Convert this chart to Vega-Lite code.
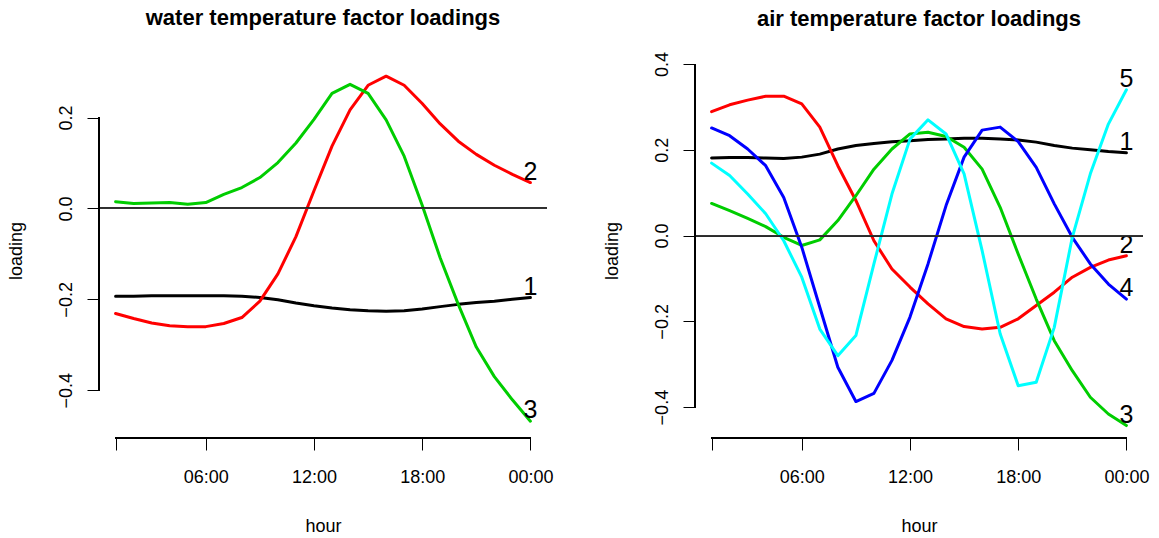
{
  "$schema": "https://vega.github.io/schema/vega-lite/v6.json",
  "background": "white",
  "padding": {"left": 7, "top": 7, "right": 5, "bottom": 0},
  "config": {
    "view": {"stroke": null},
    "font": "Liberation Sans",
    "title": {"fontSize": 22, "fontWeight": "bold", "font": "Liberation Sans", "color": "black", "anchor": "middle", "frame": "group", "baseline": "alphabetic"},
    "axis": {"grid": false, "domain": false, "tickColor": "black", "tickSize": 12, "tickWidth": 1, "labelFont": "Liberation Sans", "labelFontSize": 18, "labelColor": "black", "titleFont": "Liberation Sans", "titleFontSize": 18, "titleFontWeight": "normal", "titleColor": "black", "labelOverlap": false, "labelFlush": false}
  },
  "datasets": {
    "water": [
      {"hour": 1, "factor": "1", "loading": -0.193}, {"hour": 2, "factor": "1", "loading": -0.193}, {"hour": 3, "factor": "1", "loading": -0.192}, {"hour": 4, "factor": "1", "loading": -0.192}, {"hour": 5, "factor": "1", "loading": -0.192}, {"hour": 6, "factor": "1", "loading": -0.192}, {"hour": 7, "factor": "1", "loading": -0.192}, {"hour": 8, "factor": "1", "loading": -0.193}, {"hour": 9, "factor": "1", "loading": -0.196}, {"hour": 10, "factor": "1", "loading": -0.201}, {"hour": 11, "factor": "1", "loading": -0.208}, {"hour": 12, "factor": "1", "loading": -0.214}, {"hour": 13, "factor": "1", "loading": -0.219}, {"hour": 14, "factor": "1", "loading": -0.223}, {"hour": 15, "factor": "1", "loading": -0.225}, {"hour": 16, "factor": "1", "loading": -0.226}, {"hour": 17, "factor": "1", "loading": -0.225}, {"hour": 18, "factor": "1", "loading": -0.221}, {"hour": 19, "factor": "1", "loading": -0.216}, {"hour": 20, "factor": "1", "loading": -0.211}, {"hour": 21, "factor": "1", "loading": -0.207}, {"hour": 22, "factor": "1", "loading": -0.204}, {"hour": 23, "factor": "1", "loading": -0.200}, {"hour": 24, "factor": "1", "loading": -0.196},
      {"hour": 1, "factor": "2", "loading": -0.231}, {"hour": 2, "factor": "2", "loading": -0.242}, {"hour": 3, "factor": "2", "loading": -0.252}, {"hour": 4, "factor": "2", "loading": -0.258}, {"hour": 5, "factor": "2", "loading": -0.260}, {"hour": 6, "factor": "2", "loading": -0.260}, {"hour": 7, "factor": "2", "loading": -0.253}, {"hour": 8, "factor": "2", "loading": -0.240}, {"hour": 9, "factor": "2", "loading": -0.204}, {"hour": 10, "factor": "2", "loading": -0.144}, {"hour": 11, "factor": "2", "loading": -0.062}, {"hour": 12, "factor": "2", "loading": 0.039}, {"hour": 13, "factor": "2", "loading": 0.137}, {"hour": 14, "factor": "2", "loading": 0.217}, {"hour": 15, "factor": "2", "loading": 0.271}, {"hour": 16, "factor": "2", "loading": 0.291}, {"hour": 17, "factor": "2", "loading": 0.271}, {"hour": 18, "factor": "2", "loading": 0.231}, {"hour": 19, "factor": "2", "loading": 0.186}, {"hour": 20, "factor": "2", "loading": 0.148}, {"hour": 21, "factor": "2", "loading": 0.119}, {"hour": 22, "factor": "2", "loading": 0.095}, {"hour": 23, "factor": "2", "loading": 0.075}, {"hour": 24, "factor": "2", "loading": 0.057},
      {"hour": 1, "factor": "3", "loading": 0.015}, {"hour": 2, "factor": "3", "loading": 0.011}, {"hour": 3, "factor": "3", "loading": 0.012}, {"hour": 4, "factor": "3", "loading": 0.013}, {"hour": 5, "factor": "3", "loading": 0.009}, {"hour": 6, "factor": "3", "loading": 0.013}, {"hour": 7, "factor": "3", "loading": 0.031}, {"hour": 8, "factor": "3", "loading": 0.046}, {"hour": 9, "factor": "3", "loading": 0.068}, {"hour": 10, "factor": "3", "loading": 0.101}, {"hour": 11, "factor": "3", "loading": 0.144}, {"hour": 12, "factor": "3", "loading": 0.196}, {"hour": 13, "factor": "3", "loading": 0.253}, {"hour": 14, "factor": "3", "loading": 0.273}, {"hour": 15, "factor": "3", "loading": 0.253}, {"hour": 16, "factor": "3", "loading": 0.195}, {"hour": 17, "factor": "3", "loading": 0.115}, {"hour": 18, "factor": "3", "loading": 0.007}, {"hour": 19, "factor": "3", "loading": -0.109}, {"hour": 20, "factor": "3", "loading": -0.211}, {"hour": 21, "factor": "3", "loading": -0.305}, {"hour": 22, "factor": "3", "loading": -0.370}, {"hour": 23, "factor": "3", "loading": -0.421}, {"hour": 24, "factor": "3", "loading": -0.468}
    ],
    "air": [
      {"hour": 1, "factor": "1", "loading": 0.181}, {"hour": 2, "factor": "1", "loading": 0.182}, {"hour": 3, "factor": "1", "loading": 0.182}, {"hour": 4, "factor": "1", "loading": 0.181}, {"hour": 5, "factor": "1", "loading": 0.180}, {"hour": 6, "factor": "1", "loading": 0.183}, {"hour": 7, "factor": "1", "loading": 0.190}, {"hour": 8, "factor": "1", "loading": 0.202}, {"hour": 9, "factor": "1", "loading": 0.210}, {"hour": 10, "factor": "1", "loading": 0.215}, {"hour": 11, "factor": "1", "loading": 0.219}, {"hour": 12, "factor": "1", "loading": 0.221}, {"hour": 13, "factor": "1", "loading": 0.224}, {"hour": 14, "factor": "1", "loading": 0.225}, {"hour": 15, "factor": "1", "loading": 0.227}, {"hour": 16, "factor": "1", "loading": 0.227}, {"hour": 17, "factor": "1", "loading": 0.225}, {"hour": 18, "factor": "1", "loading": 0.223}, {"hour": 19, "factor": "1", "loading": 0.218}, {"hour": 20, "factor": "1", "loading": 0.210}, {"hour": 21, "factor": "1", "loading": 0.204}, {"hour": 22, "factor": "1", "loading": 0.200}, {"hour": 23, "factor": "1", "loading": 0.196}, {"hour": 24, "factor": "1", "loading": 0.193},
      {"hour": 1, "factor": "2", "loading": 0.289}, {"hour": 2, "factor": "2", "loading": 0.305}, {"hour": 3, "factor": "2", "loading": 0.316}, {"hour": 4, "factor": "2", "loading": 0.325}, {"hour": 5, "factor": "2", "loading": 0.325}, {"hour": 6, "factor": "2", "loading": 0.307}, {"hour": 7, "factor": "2", "loading": 0.253}, {"hour": 8, "factor": "2", "loading": 0.163}, {"hour": 9, "factor": "2", "loading": 0.082}, {"hour": 10, "factor": "2", "loading": -0.012}, {"hour": 11, "factor": "2", "loading": -0.078}, {"hour": 12, "factor": "2", "loading": -0.120}, {"hour": 13, "factor": "2", "loading": -0.159}, {"hour": 14, "factor": "2", "loading": -0.194}, {"hour": 15, "factor": "2", "loading": -0.212}, {"hour": 16, "factor": "2", "loading": -0.218}, {"hour": 17, "factor": "2", "loading": -0.214}, {"hour": 18, "factor": "2", "loading": -0.194}, {"hour": 19, "factor": "2", "loading": -0.163}, {"hour": 20, "factor": "2", "loading": -0.132}, {"hour": 21, "factor": "2", "loading": -0.097}, {"hour": 22, "factor": "2", "loading": -0.074}, {"hour": 23, "factor": "2", "loading": -0.057}, {"hour": 24, "factor": "2", "loading": -0.047},
      {"hour": 1, "factor": "3", "loading": 0.075}, {"hour": 2, "factor": "3", "loading": 0.058}, {"hour": 3, "factor": "3", "loading": 0.040}, {"hour": 4, "factor": "3", "loading": 0.021}, {"hour": 5, "factor": "3", "loading": -0.004}, {"hour": 6, "factor": "3", "loading": -0.023}, {"hour": 7, "factor": "3", "loading": -0.010}, {"hour": 8, "factor": "3", "loading": 0.035}, {"hour": 9, "factor": "3", "loading": 0.093}, {"hour": 10, "factor": "3", "loading": 0.155}, {"hour": 11, "factor": "3", "loading": 0.202}, {"hour": 12, "factor": "3", "loading": 0.237}, {"hour": 13, "factor": "3", "loading": 0.241}, {"hour": 14, "factor": "3", "loading": 0.231}, {"hour": 15, "factor": "3", "loading": 0.206}, {"hour": 16, "factor": "3", "loading": 0.155}, {"hour": 17, "factor": "3", "loading": 0.066}, {"hour": 18, "factor": "3", "loading": -0.043}, {"hour": 19, "factor": "3", "loading": -0.148}, {"hour": 20, "factor": "3", "loading": -0.245}, {"hour": 21, "factor": "3", "loading": -0.315}, {"hour": 22, "factor": "3", "loading": -0.377}, {"hour": 23, "factor": "3", "loading": -0.416}, {"hour": 24, "factor": "3", "loading": -0.443},
      {"hour": 1, "factor": "4", "loading": 0.251}, {"hour": 2, "factor": "4", "loading": 0.233}, {"hour": 3, "factor": "4", "loading": 0.202}, {"hour": 4, "factor": "4", "loading": 0.163}, {"hour": 5, "factor": "4", "loading": 0.089}, {"hour": 6, "factor": "4", "loading": -0.027}, {"hour": 7, "factor": "4", "loading": -0.167}, {"hour": 8, "factor": "4", "loading": -0.307}, {"hour": 9, "factor": "4", "loading": -0.387}, {"hour": 10, "factor": "4", "loading": -0.368}, {"hour": 11, "factor": "4", "loading": -0.291}, {"hour": 12, "factor": "4", "loading": -0.190}, {"hour": 13, "factor": "4", "loading": -0.066}, {"hour": 14, "factor": "4", "loading": 0.070}, {"hour": 15, "factor": "4", "loading": 0.183}, {"hour": 16, "factor": "4", "loading": 0.246}, {"hour": 17, "factor": "4", "loading": 0.253}, {"hour": 18, "factor": "4", "loading": 0.219}, {"hour": 19, "factor": "4", "loading": 0.159}, {"hour": 20, "factor": "4", "loading": 0.074}, {"hour": 21, "factor": "4", "loading": -0.004}, {"hour": 22, "factor": "4", "loading": -0.066}, {"hour": 23, "factor": "4", "loading": -0.113}, {"hour": 24, "factor": "4", "loading": -0.148},
      {"hour": 1, "factor": "5", "loading": 0.169}, {"hour": 2, "factor": "5", "loading": 0.140}, {"hour": 3, "factor": "5", "loading": 0.097}, {"hour": 4, "factor": "5", "loading": 0.051}, {"hour": 5, "factor": "5", "loading": -0.012}, {"hour": 6, "factor": "5", "loading": -0.097}, {"hour": 7, "factor": "5", "loading": -0.218}, {"hour": 8, "factor": "5", "loading": -0.280}, {"hour": 9, "factor": "5", "loading": -0.233}, {"hour": 10, "factor": "5", "loading": -0.066}, {"hour": 11, "factor": "5", "loading": 0.097}, {"hour": 12, "factor": "5", "loading": 0.225}, {"hour": 13, "factor": "5", "loading": 0.270}, {"hour": 14, "factor": "5", "loading": 0.237}, {"hour": 15, "factor": "5", "loading": 0.144}, {"hour": 16, "factor": "5", "loading": -0.035}, {"hour": 17, "factor": "5", "loading": -0.229}, {"hour": 18, "factor": "5", "loading": -0.350}, {"hour": 19, "factor": "5", "loading": -0.342}, {"hour": 20, "factor": "5", "loading": -0.214}, {"hour": 21, "factor": "5", "loading": -0.004}, {"hour": 22, "factor": "5", "loading": 0.144}, {"hour": 23, "factor": "5", "loading": 0.260}, {"hour": 24, "factor": "5", "loading": 0.340}
    ]
  },
  "bounds": "flush",
  "spacing": 148,
  "hconcat": [
    {
      "width": 448,
      "height": 375,
      "title": {"text": "water temperature factor loadings", "offset": 33},
      "data": {"name": "water"},
      "layer": [
        {
          "mark": {"type": "line", "strokeWidth": 3, "strokeCap": "round", "strokeJoin": "round"},
          "encoding": {
            "x": {"field": "hour", "type": "quantitative", "scale": {"domain": [0.08, 24.92], "nice": false, "zero": false},
              "axis": {"values": [1, 6, 12, 18, 24], "labelExpr": "datum.value == 1 ? '' : datum.value == 24 ? '00:00' : (datum.value < 10 ? '0' : '') + datum.value + ':00'", "title": "hour", "labelBaseline": "alphabetic", "labelPadding": 32, "titleBaseline": "alphabetic", "titlePadding": 45}},
            "y": {"field": "loading", "type": "quantitative", "scale": {"domain": [-0.505, 0.32], "nice": false, "zero": false},
              "axis": {"values": [-0.4, -0.2, 0, 0.2], "format": ".1f", "labelExpr": "replace(datum.label, '-', '\u2212')", "labelAngle": -90, "labelAlign": "center", "labelBaseline": "alphabetic", "labelPadding": 16, "title": "loading", "titleBaseline": "alphabetic", "titlePadding": 36}},
            "color": {"field": "factor", "type": "nominal", "scale": {"domain": ["1", "2", "3", "4", "5"], "range": ["#000000", "#FF0000", "#00CD00", "#0000FF", "#00FFFF"]}, "legend": null}
          }
        },
        {
          "transform": [{"filter": "datum.hour == 24"}],
          "mark": {"type": "text", "fontSize": 25, "align": "center", "baseline": "alphabetic", "dy": -3, "color": "black", "font": "Liberation Sans"},
          "encoding": {
            "x": {"field": "hour", "type": "quantitative"},
            "y": {"field": "loading", "type": "quantitative"},
            "text": {"field": "factor"}
          }
        },
        {"mark": {"type": "rule", "color": "#333333", "strokeWidth": 1}, "encoding": {"y": {"datum": 0}}},
        {"mark": {"type": "rule", "color": "black", "strokeWidth": 1}, "encoding": {"x": {"datum": 1}, "x2": {"datum": 24}, "y": {"datum": -0.505}}},
        {"mark": {"type": "rule", "color": "black", "strokeWidth": 1}, "encoding": {"x": {"datum": 0.08}, "y": {"datum": -0.4}, "y2": {"datum": 0.2}}}
      ]
    },
    {
      "width": 448,
      "height": 375,
      "title": {"text": "air temperature factor loadings", "offset": 21},
      "data": {"name": "air"},
      "layer": [
        {
          "mark": {"type": "line", "strokeWidth": 3, "strokeCap": "round", "strokeJoin": "round"},
          "encoding": {
            "x": {"field": "hour", "type": "quantitative", "scale": {"domain": [0.08, 24.92], "nice": false, "zero": false},
              "axis": {"values": [1, 6, 12, 18, 24], "labelExpr": "datum.value == 1 ? '' : datum.value == 24 ? '00:00' : (datum.value < 10 ? '0' : '') + datum.value + ':00'", "title": "hour", "labelBaseline": "alphabetic", "labelPadding": 32, "titleBaseline": "alphabetic", "titlePadding": 45}},
            "y": {"field": "loading", "type": "quantitative", "scale": {"domain": [-0.472, 0.4025], "nice": false, "zero": false},
              "axis": {"values": [-0.4, -0.2, 0, 0.2, 0.4], "format": ".1f", "labelExpr": "replace(datum.label, '-', '\u2212')", "labelAngle": -90, "labelAlign": "center", "labelBaseline": "alphabetic", "labelPadding": 16, "title": "loading", "titleBaseline": "alphabetic", "titlePadding": 36}},
            "color": {"field": "factor", "type": "nominal", "scale": {"domain": ["1", "2", "3", "4", "5"], "range": ["#000000", "#FF0000", "#00CD00", "#0000FF", "#00FFFF"]}, "legend": null}
          }
        },
        {
          "transform": [{"filter": "datum.hour == 24"}],
          "mark": {"type": "text", "fontSize": 25, "align": "center", "baseline": "alphabetic", "dy": -3, "color": "black", "font": "Liberation Sans"},
          "encoding": {
            "x": {"field": "hour", "type": "quantitative"},
            "y": {"field": "loading", "type": "quantitative"},
            "text": {"field": "factor"}
          }
        },
        {"mark": {"type": "rule", "color": "#333333", "strokeWidth": 1}, "encoding": {"y": {"datum": 0}}},
        {"mark": {"type": "rule", "color": "black", "strokeWidth": 1}, "encoding": {"x": {"datum": 1}, "x2": {"datum": 24}, "y": {"datum": -0.472}}},
        {"mark": {"type": "rule", "color": "black", "strokeWidth": 1}, "encoding": {"x": {"datum": 0.08}, "y": {"datum": -0.4}, "y2": {"datum": 0.4}}}
      ]
    }
  ]
}
